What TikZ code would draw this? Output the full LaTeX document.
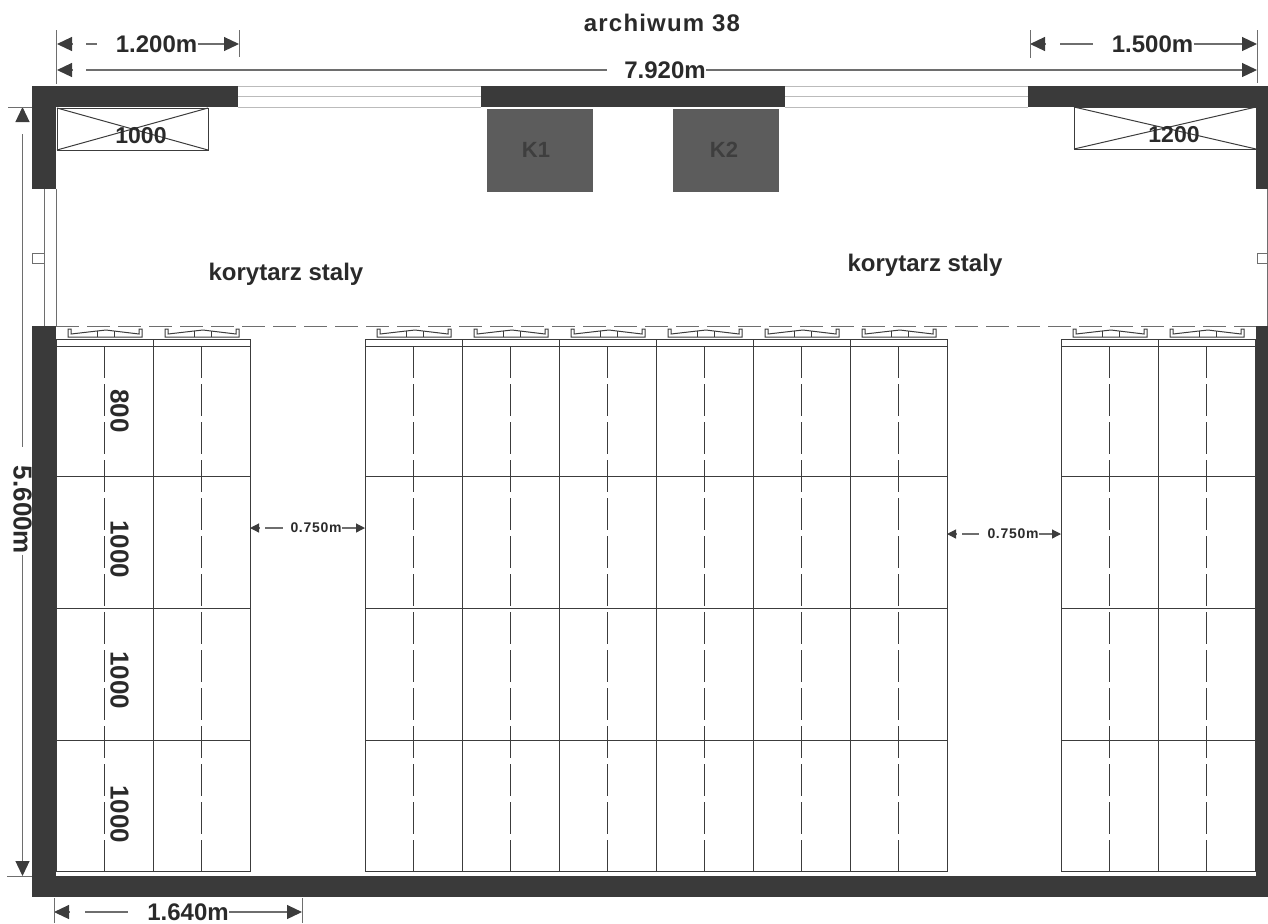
\documentclass[tikz,border=0pt]{standalone}
\usepackage{fontspec}
\setmainfont{Liberation Sans}
\newfontfamily\spacedfont[LetterSpace=5]{Liberation Sans}
\usetikzlibrary{arrows.meta,calc}
\definecolor{wallgray}{HTML}{3A3A3A}
\definecolor{unitgray}{HTML}{5C5C5C}
\definecolor{unittext}{HTML}{3E3E3E}
\definecolor{linegray}{HTML}{3C3C3C}
\definecolor{dimgray}{HTML}{6E6E6E}
\definecolor{glassgray}{HTML}{BBBBBB}
\definecolor{textgray}{HTML}{2A2A2A}

\begin{document}
\begin{tikzpicture}[x=0.5pt,y=-0.5pt]
	\path [use as bounding box] (0,0) rectangle (1268,923);
	\tikzstyle{wall} = [fill=wallgray]
	\tikzstyle{unit} = [fill=unitgray]
	\tikzstyle{rack} = [draw=linegray, line width=.5pt]
	\tikzstyle{rackdash} = [rack, dash pattern=on 16pt off 3pt]
	\tikzstyle{glass} = [draw=glassgray, line width=.5pt]
	\tikzstyle{side} = [draw=dimgray, line width=.5pt]
	\tikzstyle{dim} = [draw=dimgray, line width=.6pt]
	\tikzstyle{dimtip} = [dim, {Triangle[length=7.5pt,width=7pt,color=linegray]}-]
	\tikzstyle{dimend} = [dim, -{Triangle[length=7.5pt,width=7pt,color=linegray]}]
	\tikzstyle{smalltip} = [dim, {Triangle[length=4.5pt,width=4.5pt,color=linegray]}-]
	\tikzstyle{smallend} = [dim, -{Triangle[length=4.5pt,width=4.5pt,color=linegray]}]
	\tikzstyle{label} = [inner sep=0pt, text=textgray, font=\bfseries\fontsize{12}{12}\selectfont]
	\tikzstyle{racklabel} = [label, rotate=-90, font=\bfseries\fontsize{13}{13}\selectfont]
	\tikzstyle{fanlabel} = [label, font=\bfseries\fontsize{11.5}{11.5}\selectfont]
	\tikzstyle{unitlabel} = [label, text=unittext, font=\bfseries\fontsize{11}{11}\selectfont]
	\tikzstyle{smalllabel} = [label, font=\spacedfont\bfseries\fontsize{7}{7}\selectfont]

	% racks
	\foreach \x in {56,153,365,462,559,656,753,850,1061,1158} {
		\draw[rack] (\x,339) rectangle (\x+97,871);
		\draw[rack] (\x,346) -- (\x+97,346);
		\foreach \y in {476.5,608.5,740}
			\draw[rack] (\x,\y) -- (\x+97,\y);
		\draw[rackdash] (\x+48.5,346) -- (\x+48.5,871);
		% handle
		\draw[rack] (\x+12,329) -- (\x+12,337) -- (\x+86,337) -- (\x+86,329) -- (\x+83,329)
			-- (\x+83,334) -- (\x+58,331) -- (\x+50,330) -- (\x+41,331) -- (\x+15,334)
			-- (\x+15,329) -- cycle;
		\draw[rack] (\x+41,331) -- (\x+41,337);
		\draw[rack] (\x+58,331) -- (\x+58,337);
	}
	\draw[rack, draw=dimgray, dash pattern=on 11.5pt off 4pt] (56,326) -- (1256,326);

	% walls
	\fill[wall] (32,86) rectangle (238,107);
	\fill[wall] (481,86) rectangle (785,107);
	\fill[wall] (1028,86) rectangle (1268,107);
	\fill[wall] (32,86) rectangle (56,189);
	\fill[wall] (1256,86) rectangle (1268,189);
	\fill[wall] (32,326) rectangle (56,897);
	\fill[wall] (1256,326) rectangle (1268,897);
	\fill[wall] (32,876) rectangle (1268,897);

	% windows
	\foreach \y in {86,96,107} {
		\draw[glass] (238,\y) -- (481,\y);
		\draw[glass] (785,\y) -- (1028,\y);
	}
	\draw[side] (44,189) -- (44,326);
	\draw[side] (56,189) -- (56,326);
	\draw[side] (1267,189) -- (1267,326);
	\draw[side] (32,253) rectangle (44,263);
	\draw[side] (1257,253) rectangle (1268,263);

	% fans
	\draw[rack] (57,108) rectangle (208,150);
	\draw[rack] (57,108) -- (208,150);
	\draw[rack] (57,150) -- (208,108);
	\draw[rack] (1074,107) rectangle (1256,149);
	\draw[rack] (1074,107) -- (1256,149);
	\draw[rack] (1074,149) -- (1256,107);
	\node[fanlabel] (fan1) at (141,136) {1000};
	\node[fanlabel] (fan2) at (1174,135) {1200};

	% K1, K2
	\fill[unit] (487,109) rectangle (593,192);
	\fill[unit] (673,109) rectangle (779,192);
	\node[unitlabel] (k1) at (536,150) {K1};
	\node[unitlabel] (k2) at (724,150) {K2};

	% texts
	\node[label, font=\spacedfont\bfseries\fontsize{12}{12}\selectfont] (title) at (662,23) {archiwum 38};
	\node[label] (corridor1) at (286,274) {korytarz staly};
	\node[label] (corridor2) at (925,265) {korytarz staly};
	\node[racklabel] (row1) at (119.5,411) {800};
	\node[racklabel] (row2) at (119.5,549) {1000};
	\node[racklabel] (row3) at (119.5,680) {1000};
	\node[racklabel] (row4) at (119.5,814) {1000};

	% dimensions
	\foreach \n/\xa/\xb/\y/\xc/\xd/\xt/\txt in {a/57/239/44/86/97/156.5/1.200m,
			b/1030/1257/44/1060/1093/1152.5/1.500m, c/54/302/912/85/128/188/1.640m} {
		\coordinate (dim\n a) at (\xa,\y);
		\coordinate (dim\n b) at (\xb,\y);
		\coordinate (dim\n c) at (\xc,\y);
		\coordinate (dim\n d) at (\xd,\y);
		\node[label] (dim\n) at (\xt,\y) {\txt};
		\draw[dimtip] (dim\n a) -- +(15,0);
		\draw[dim] (dim\n c) -- (dim\n d);
		\draw[dimend] (dim\n) -- (dim\n b);
	}
	\foreach \n/\xa/\xb/\y/\xc/\xd/\xt in {e/250/365/528/265/283/316, f/947/1061/534/962/979/1013} {
		\coordinate (dim\n a) at (\xa,\y);
		\coordinate (dim\n b) at (\xb,\y);
		\coordinate (dim\n c) at (\xc,\y);
		\coordinate (dim\n d) at (\xd,\y);
		\node[smalllabel] (dim\n) at (\xt,\y) {0.750m};
		\draw[smalltip] (dim\n a) -- +(9,0);
		\draw[dim] (dim\n c) -- (dim\n d);
		\draw[smallend] (dim\n) -- (dim\n b);
	}

	% overall width
	\coordinate (widtha) at (57,70);
	\coordinate (widthb) at (1257,70);
	\coordinate (widthc) at (86,70);
	\coordinate (widthd) at (607,70);
	\node[label] (width) at (665,70) {7.920m};
	\draw[dimtip] (widtha) -- +(15,0);
	\draw[dim] (widthc) -- (widthd);
	\draw[dimend] (width) -- (widthb);

	% overall height
	\coordinate (heighta) at (22.5,107);
	\coordinate (heightb) at (22.5,876);
	\coordinate (heightc) at (22.5,134);
	\coordinate (heightd) at (22.5,447);
	\node[racklabel] (height) at (22.5,510) {5.600m};
	\draw[dimtip] (heighta) -- +(0,14);
	\draw[dim] (heightc) -- (heightd);
	\draw[dimend] (height.east) -- (heightb);

	% ticks
	\draw[side] (56.5,30) -- (56.5,84);
	\draw[side] (239,30) -- (239,57);
	\draw[side] (1030,30) -- (1030,58);
	\draw[side] (1257,30) -- (1257,83);
	\draw[side] (54,898) -- (54,923);
	\draw[side] (302,898) -- (302,923);
	\draw[side] (8,107) -- (32,107);
	\draw[side] (7,876) -- (32,876);
\end{tikzpicture}
\end{document}
